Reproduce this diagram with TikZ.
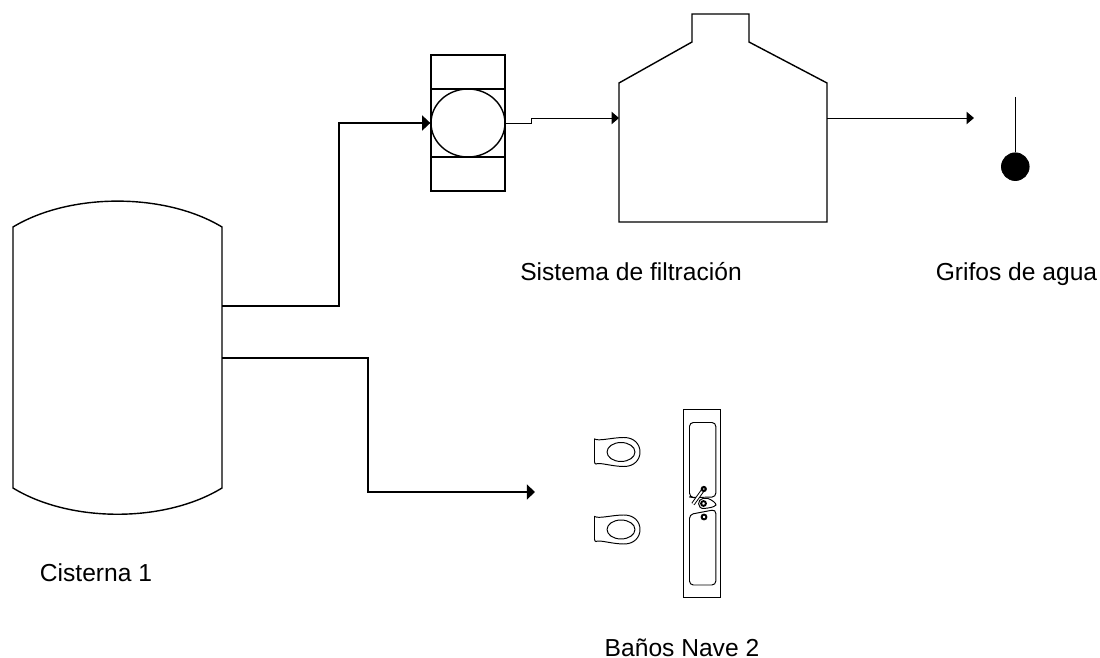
\documentclass[tikz,border=0pt]{standalone}
\usepackage{fontspec}
\setmainfont{Liberation Sans}
\usetikzlibrary{arrows.meta,positioning,shapes.geometric}

\begin{document}
\begin{tikzpicture}[
  x=0.02cm, y=-0.02cm,
  equipo/.style = {draw=black, line width=0.8pt},
  caja/.style   = {rectangle, draw=black, line width=0.8pt, inner sep=0pt},
  tubo/.style   = {-{Triangle[length=4.6pt,width=8.5pt]}, draw=black, line width=0.75pt},
  tuboFino/.style = {-{Triangle[length=4.2pt,width=7pt]}, draw=black, line width=0.55pt},
  rotulo/.style = {font=\fontsize{14}{16}\selectfont, inner sep=0pt, anchor=base},
  mueble/.style = {draw=black, line width=0.55pt},
]
\useasboundingbox (0,0) rectangle (1100,658);

% ── Cisterna ─────────────────────────────────────────────────
\draw[equipo] (13,227) .. controls (70,192.5) and (165,192.5) .. (222,227)
  -- (222,488) .. controls (165,523) and (70,523) .. (13,488) -- cycle;
\coordinate (cisSup) at (222,306);
\coordinate (cisInf) at (222,358);
\node[rotulo] (cisLbl) at (96,582) {Cisterna 1};

% ── Bomba ────────────────────────────────────────────────────
\node[caja, minimum width=42.1pt, minimum height=77.4pt] (bomba) at (468,123) {};
\draw[equipo] (431,89) -- (505,89);
\draw[equipo] (431,157) -- (505,157);
\node[ellipse, equipo, minimum width=42.1pt, minimum height=38.7pt, inner sep=0pt] (rotor) at (468,123) {};

% ── Filtro ───────────────────────────────────────────────────
\draw[equipo] (619,83) -- (692,42) -- (692,14) -- (749,14) -- (749,42)
  -- (827,83) -- (827,222) -- (619,222) -- cycle;
\coordinate (filEnt) at (619,118);
\coordinate (filSal) at (827,118);
\node[rotulo] (filLbl) at (631,281) {Sistema de filtración};

% ── Grifo ────────────────────────────────────────────────────
\node[circle, fill=black, draw=black, minimum size=15.8pt, inner sep=0pt] (grifo) at (1015.3,166.7) {};
\coordinate (grifoSup) at (1015.3,97);
\coordinate (grifoEnt) at (974,118);
\draw[line width=0.5pt] (grifoSup) -- (grifo);
\node[rotulo] (grifoLbl) at (1016.5,281) {Grifos de agua};

% ── Tuberías ─────────────────────────────────────────────────
\coordinate (banosEnt) at (535,492);
\draw[tubo] (cisSup) -- (339,306) -- (339,123) -- (bomba.west);
\draw[tubo] (cisInf) -- (368,358) -- (368,492) -- (banosEnt);
\draw[tuboFino] (bomba.east) -- (531,123) -- (531,118) -- (filEnt);
\draw[tuboFino] (filSal) -- (grifoEnt);

% ── Sanitarios ───────────────────────────────────────────────
\foreach \yy/\nom in {452/a, 529.5/b}{
  \begin{scope}[yshift={-\yy*0.02cm}]
    \draw[mueble] (594.5,-13) .. controls (599,-10.5) and (612,-14.5) .. (624,-14.5)
      .. controls (634,-14.5) and (640,-8) .. (640,0)
      .. controls (640,8) and (634,14.5) .. (624,14.5)
      .. controls (612,14.5) and (599,10) .. (596,12)
      .. controls (594,12) and (594.5,8) .. (594.5,6) -- cycle;
    \node[ellipse, mueble, minimum width=15.9pt, minimum height=10.8pt, inner sep=0pt] (taza\nom) at (621,0) {};
  \end{scope}
}

% ── Lavabo ───────────────────────────────────────────────────
\node[rectangle, mueble, minimum width=21.6pt, minimum height=107pt, inner sep=0pt] (lavabo) at (702,503) {};
\draw[mueble, rounded corners=2.2pt] (689.5,497) -- (689.5,422.5) -- (715.8,422.5) -- (715.8,497) -- (693,497.5) -- cycle;
\draw[mueble, rounded corners=2.2pt] (689.5,514.5) -- (715.8,509.5) -- (715.8,585) -- (689.5,585) -- cycle;
\draw[mueble, fill=white] (708,498.5) .. controls (712,500) and (716,503) .. (716,505)
  .. controls (714,507.5) and (708,508) .. (704,508.5)
  .. controls (697,509) and (697,499) .. (703,498.5) -- cycle;
\draw[black, line width=1.1pt, fill=white] (703.5,503.5) circle (2.4);
\draw[black, line width=1.1pt, fill=white] (704,517) circle (2.4);
\draw[double=white, draw=black, line width=0.55pt, double distance=1pt] (703,490) -- (693,504);
\draw[black, line width=1.2pt, fill=white] (703.8,489) circle (2);
\node[rotulo] (banLbl) at (682,656.7) {Baños Nave 2};

\end{tikzpicture}
\end{document}
